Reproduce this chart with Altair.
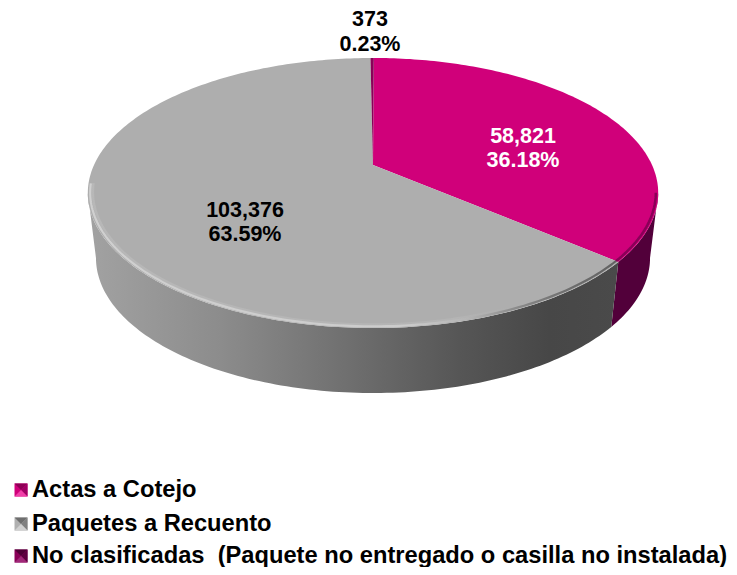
import math
import altair as alt
import pandas as pd

# ---- data ----
names = ["Actas a Cotejo", "Paquetes a Recuento",
         "No clasificadas \u00a0(Paquete no entregado o casilla no instalada)"]
values = [58821, 103376, 373]
top_colors = ["#D0007A", "#AEAEAE", "#8A0058"]
wall_magenta = "#52003A"
label_colors = ["#FFFFFF", "#000000", "#000000"]
label_x = [523, 245, 370]
label_y = [[137, 161], [211, 235], [20, 45]]
legend_y = [490, 524, 556]
FONT = "Liberation Sans"
FS = 21.5
LEGEND_FS = 23.7

# ---- view geometry of the tilted disc (a circle seen in perspective) ----
CX, CY, R, R_BASE, A, B, DEPTH, START = 373.0, 165.0, 279.0, 271.0, -0.2074, 95.0, 65.0, 0.2
W, H = 721, 559
total = sum(values)


def proj(deg, r=R, dy=0.0, k=1.0):
    u = k * math.sin(math.radians(deg))
    v = -k * math.cos(math.radians(deg))
    w = 1 + A * v
    return CX + r * u / w, (CY + B * v) / w + dy


def arc(a0, a1, **kw):
    n = max(2, int(abs(a1 - a0) / 1.0) + 1)
    return [proj(a0 + (a1 - a0) * i / (n - 1), **kw) for i in range(n)]


def frame(points):
    return pd.DataFrame({"x": [p[0] for p in points], "y": [p[1] for p in points],
                         "i": list(range(len(points)))})


X = alt.X("x:Q", axis=None, scale=alt.Scale(domain=[8, 8 + W], nice=False, zero=False))
Y = alt.Y("y:Q", axis=None, scale=alt.Scale(domain=[8 + H, 8], nice=False, zero=False))


def poly(points, fill):
    return alt.Chart(frame(points)).mark_line(fill=fill, stroke=None, strokeWidth=0).encode(
        x=X, y=Y, order="i:Q")


def rim(points, stroke, width, opacity=1.0):
    return alt.Chart(frame(points)).mark_line(stroke=stroke, strokeWidth=width, strokeCap="butt",
                                              opacity=opacity).encode(x=X, y=Y, order="i:Q")


def grad(stops):
    return alt.LinearGradient(gradient="linear", x1=0, x2=1, y1=0, y2=0,
                              stops=[alt.GradientStop(offset=o, color=c) for o, c in stops])


# slice angles, clockwise
angles = []
a = START
for val in values:
    b = a + 360 * val / total
    angles.append((a, b))
    a = b
seam = angles[0][1]
side_r = math.degrees(math.acos(A))  # right-hand silhouette, clockwise from top
side_l = 360 - side_r

layers = []
# side wall
gray_wall = arc(seam, side_l) + arc(side_l, seam, r=R_BASE, dy=DEPTH)
mag_wall = arc(side_r, seam) + arc(seam, side_r, r=R_BASE, dy=DEPTH)
layers.append(poly(mag_wall, wall_magenta))
layers.append(poly(gray_wall, grad([(0, "#A2A2A2"), (0.25, "#8C8C8C"), (0.45, "#747474"),
                                    (0.7, "#565656"), (0.87, "#474747"), (1, "#4A4A4A")])))
# top slices
for (a0, a1), col in zip(angles, top_colors):
    layers.append(poly([(CX, CY)] + arc(a0, a1), col))
# soft bevels along the front rim
layers.append(rim(arc(seam, side_l + 4, k=0.983), grad([(0, "#BEBEBE"), (0.7, "#B8B8B8"), (0.8, "#AEAEAE"),
                                                        (1, "#AEAEAE")]), 2.5, 0.6))
layers.append(rim(arc(seam, side_l + 4, k=0.992), grad([(0, "#D0D0D0"), (0.6, "#CCCCCC"), (0.72, "#B4B4B4"),
                                                        (0.8, "#8E8E8E"), (0.9, "#707070"), (1, "#626262")]), 2.2))
layers.append(rim(arc(side_r, seam, k=0.992), "#8A0058", 2.5))

# value labels
rows = []
for val, cx, ys, col in zip(values, label_x, label_y, label_colors):
    rows.append({"x": cx, "y": ys[0], "t": f"{val:,}", "c": col})
    rows.append({"x": cx, "y": ys[1], "t": f"{val / total:.2%}", "c": col})
layers.append(alt.Chart(pd.DataFrame(rows)).mark_text(
    font=FONT, fontWeight="bold", fontSize=FS, align="center", baseline="middle").encode(
    x=X, y=Y, text="t:N", color=alt.Color("c:N", scale=None)))

# legend: bevelled key and label
SQ = 6.5
shades = [["#8E0056", "#D0007A", "#F040A8", "#A00064"],
          ["#6E6E6E", "#B0B0B0", "#D0D0D0", "#808080"],
          ["#4E0036", "#8A0058", "#A02878", "#5E0040"]]
for ly, sh in zip(legend_y, shades):
    cx, cy = 21, ly
    corners = [(cx - SQ, cy - SQ), (cx + SQ, cy - SQ), (cx + SQ, cy + SQ), (cx - SQ, cy + SQ)]
    layers.append(poly(corners, sh[1]))
    layers.append(poly([corners[0], corners[1], (cx, cy)], sh[0]))
    layers.append(poly([corners[1], corners[2], (cx, cy)], sh[3]))
    layers.append(poly([corners[2], corners[3], (cx, cy)], sh[2]))
layers.append(alt.Chart(pd.DataFrame({"x": [32] * 3, "y": legend_y, "t": names})).mark_text(
    font=FONT, fontWeight="bold", fontSize=LEGEND_FS, align="left", baseline="middle", color="#000000").encode(
    x=X, y=Y, text="t:N"))

chart = alt.layer(*layers).properties(
    width=W, height=H, padding=0, autosize=alt.AutoSizeParams(type="none")
).configure_view(stroke=None)

chart.save("out.html", embed_options={"renderer": "svg", "actions": False})
